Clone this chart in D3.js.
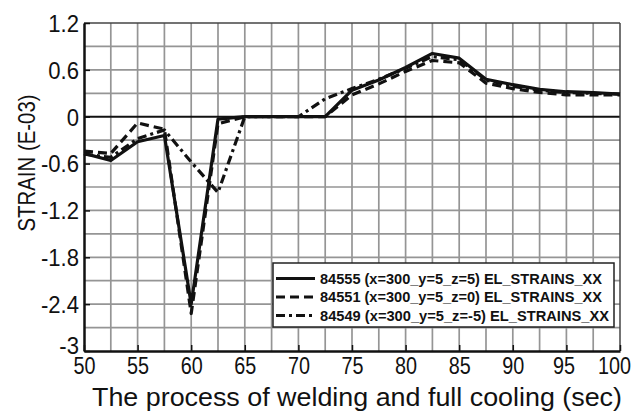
<!DOCTYPE html>
<html><head><meta charset="utf-8">
<script src="https://cdn.jsdelivr.net/npm/d3@7"></script>
<style>body{margin:0;background:#fff}svg{display:block}</style>
</head><body><div id="chart"></div>
<script>
const times = [50, 52.5, 55, 57.5, 60, 62.5, 65, 67.5, 70, 72.5, 75, 77.5, 80, 82.5, 85, 87.5, 90, 92.5, 95, 97.5, 100];
const s84555 = [-0.47, -0.56, -0.32, -0.24, -2.40, -0.03, 0, 0, 0, 0, 0.34, 0.47, 0.63, 0.81, 0.75, 0.48, 0.41, 0.35, 0.32, 0.31, 0.29];
const s84551 = [-0.44, -0.47, -0.08, -0.16, -2.52, -0.09, 0, 0, 0, 0, 0.28, 0.42, 0.58, 0.72, 0.69, 0.43, 0.36, 0.31, 0.28, 0.28, 0.28];
const s84549 = [-0.48, -0.52, -0.28, -0.17, -0.58, -0.97, 0, 0, 0, 0.23, 0.36, 0.48, 0.62, 0.77, 0.73, 0.47, 0.39, 0.34, 0.31, 0.30, 0.29];
const seriesNames = ["84555 (x=300_y=5_z=5) EL_STRAINS_XX", "84551 (x=300_y=5_z=0) EL_STRAINS_XX", "84549 (x=300_y=5_z=-5) EL_STRAINS_XX"];
const xTicks = [50, 55, 60, 65, 70, 75, 80, 85, 90, 95, 100];
const xGrid = [52.5, 55, 57.5, 60, 62.5, 65, 67.5, 70, 72.5, 75, 77.5, 80, 82.5, 85, 87.5, 90, 92.5, 95, 97.5];
const yTicks = [-3, -2.4, -1.8, -1.2, -0.6, 0, 0.6, 1.2];
const yTickLabels = ["-3", "-2.4", "-1.8", "-1.2", "-0.6", "0", "0.6", "1.2"];
const yGrid = [-2.7, -2.4, -2.1, -1.8, -1.5, -1.2, -0.9, -0.6, -0.3, 0.3, 0.6, 0.9];
const xTitle = "The process of welding and full cooling (sec)";
const yTitle = "STRAIN (E-03)";

const W = 638, H = 413;
const L = 84, R = 620, T = 23, B = 351;
const FONT = "Liberation Sans, Arial, sans-serif";
const svg = d3.select("#chart").append("svg").attr("width", W).attr("height", H);
svg.append("rect").attr("width", W).attr("height", H).attr("fill", "#fff");
const x = d3.scaleLinear().domain([50, 100]).range([L, R]);
const y = d3.scaleLinear().domain([-3, 1.2]).range([B, T]);

function condense(sel, f) {
  sel.each(function () {
    const w = this.getComputedTextLength();
    d3.select(this).attr("textLength", w * f).attr("lengthAdjust", "spacingAndGlyphs");
  });
}

// grid
const g = svg.append("g");
g.selectAll(".vg").data(xGrid).join("line")
  .attr("x1", d => x(d)).attr("x2", d => x(d)).attr("y1", T).attr("y2", B)
  .attr("stroke", "#959595").attr("stroke-width", 1.7);
g.selectAll(".hg").data(yGrid).join("line")
  .attr("y1", d => y(d)).attr("y2", d => y(d)).attr("x1", L).attr("x2", R)
  .attr("stroke", "#959595").attr("stroke-width", 1.7);
g.append("line").attr("x1", L).attr("x2", R).attr("y1", y(0)).attr("y2", y(0))
  .attr("stroke", "#111").attr("stroke-width", 2);

// frame
svg.append("line").attr("x1", L).attr("x2", R).attr("y1", T).attr("y2", T).attr("stroke", "#444").attr("stroke-width", 1.5);
svg.append("line").attr("x1", R).attr("x2", R).attr("y1", T).attr("y2", B).attr("stroke", "#444").attr("stroke-width", 1.5);

// axes
const xAxis = d3.axisBottom(x).tickValues(xTicks).tickSizeInner(-6).tickSizeOuter(0).tickFormat(d3.format("d")).tickPadding(9);
const gx = svg.append("g").attr("transform", `translate(0,${B})`).call(xAxis);
gx.select(".domain").attr("stroke", "#111").attr("stroke-width", 2.5);
gx.selectAll(".tick line").attr("stroke", "#111").attr("stroke-width", 1.5);
gx.selectAll(".tick text").attr("font-family", FONT).attr("font-size", 23).attr("fill", "#111").attr("dy", "0.6em")
  .attr("dx", d => d === 100 ? -6 : d === 95 ? -3 : 0);
condense(gx.selectAll(".tick text"), 0.86);

const yAxis = d3.axisLeft(y).tickValues(yTicks).tickSizeInner(-6).tickSizeOuter(0)
  .tickFormat((d, i) => yTickLabels[i]).tickPadding(5);
const gy = svg.append("g").attr("transform", `translate(${L},0)`).call(yAxis);
gy.select(".domain").attr("stroke", "#111").attr("stroke-width", 2.5);
gy.selectAll(".tick line").attr("stroke", "#111").attr("stroke-width", 1.5);
gy.selectAll(".tick text").attr("font-family", FONT).attr("font-size", 24).attr("fill", "#111")
  .attr("dy", d => d === -3 ? "0.1em" : "0.35em");
condense(gy.selectAll(".tick text"), 0.92);

// titles
const xt = svg.append("text").attr("x", 357).attr("y", 406).attr("text-anchor", "middle")
  .attr("font-family", FONT).attr("font-size", 26).attr("fill", "#111").text(xTitle);
xt.attr("textLength", 530).attr("lengthAdjust", "spacingAndGlyphs");
svg.append("text").attr("transform", "translate(35,163) rotate(-90)").attr("text-anchor", "middle")
  .attr("font-family", FONT).attr("font-size", 24).attr("fill", "#111")
  .attr("textLength", 137).attr("lengthAdjust", "spacingAndGlyphs").text(yTitle);

// lines
const styles = [
  {data: s84555, dash: null},
  {data: s84551, dash: "9,5"},
  {data: s84549, dash: "9,4,3,4"}
];
const line = d3.line().x((d, i) => x(times[i])).y(d => y(d));
[2, 1, 0].forEach(k => {
  svg.append("path").datum(styles[k].data).attr("d", line)
    .attr("fill", "none").attr("stroke", "#111").attr("stroke-width", 3.2)
    .attr("stroke-linejoin", "round")
    .attr("stroke-dasharray", styles[k].dash);
});

// legend
const lg = svg.append("g");
lg.append("rect").attr("x", 273).attr("y", 263).attr("width", 341).attr("height", 64)
  .attr("fill", "#fff").attr("stroke", "#222").attr("stroke-width", 1.5);
const rowY = [278.5, 297, 315.5];
seriesNames.forEach((n, i) => {
  lg.append("line").attr("x1", 276).attr("x2", 315).attr("y1", rowY[i]).attr("y2", rowY[i])
    .attr("stroke", "#111").attr("stroke-width", 3).attr("stroke-dasharray", styles[i].dash);
  lg.append("text").attr("x", 320).attr("y", rowY[i]).attr("dy", "0.36em")
    .attr("font-family", FONT).attr("font-weight", "bold")
    .attr("font-size", 15).attr("fill", "#111")
    .attr("textLength", i === 2 ? 289 : 282).attr("lengthAdjust", "spacingAndGlyphs").text(n);
});
</script></body></html>
